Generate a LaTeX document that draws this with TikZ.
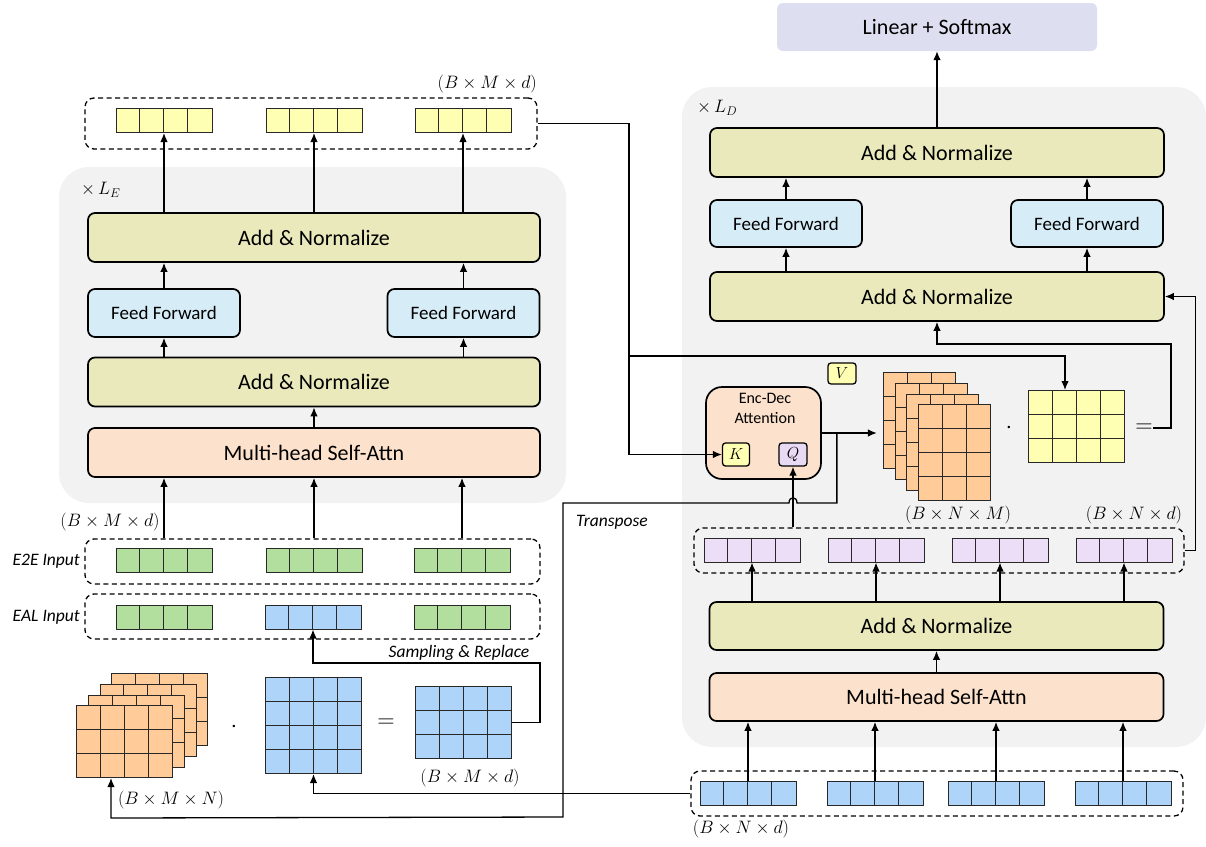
\RequirePackage{fix-cm}
\documentclass[tikz,border=0pt]{standalone}
\usepackage{fontspec}
\setmainfont{Carlito}
\usetikzlibrary{arrows.meta,calc}
\definecolor{anC}{RGB}{234,233,187}
\definecolor{ffC}{RGB}{214,236,247}
\definecolor{mhC}{RGB}{252,226,205}
\definecolor{linC}{RGB}{221,223,240}
\definecolor{bgC}{RGB}{242,242,242}
\definecolor{yC}{RGB}{255,255,179}
\definecolor{gC}{RGB}{178,222,158}
\definecolor{bC}{RGB}{174,212,250}
\definecolor{oC}{RGB}{255,204,153}
\definecolor{pC}{RGB}{236,222,246}
\definecolor{qC}{RGB}{232,218,245}
\definecolor{lnC}{RGB}{40,40,40}
\tikzset{
  blk/.style={draw, line width=1.7pt, rounded corners=7pt, inner sep=0pt},
  anbox/.style={blk, fill=anC, minimum width=452pt, minimum height=49pt, font=\fontsize{22}{26}\selectfont},
  danbox/.style={anbox, minimum width=454pt},
  mhbox/.style={blk, fill=mhC, minimum width=452pt, minimum height=49pt, font=\fontsize{22}{26}\selectfont},
  ffbox/.style={blk, fill=ffC, minimum width=152pt, minimum height=48pt, font=\fontsize{19}{22}\selectfont},
  linbox/.style={fill=linC, rounded corners=6pt, minimum width=320pt, minimum height=48pt, font=\fontsize{22}{26}\selectfont},
  attbox/.style={blk, fill=mhC, rounded corners=16pt, minimum width=115pt, minimum height=92pt},
  kq/.style={draw, line width=1.3pt, rounded corners=3pt, inner sep=0pt, minimum width=27pt, minimum height=23pt, font=\fontsize{16}{18}\selectfont},
  dbox/.style={draw, dash pattern=on 5pt off 3.5pt, line width=1.3pt, rounded corners=9pt, inner sep=0pt},
  vecn/.style={draw=lnC, line width=1pt, minimum width=96pt, minimum height=24pt, inner sep=0pt},
  gridn/.style={draw=lnC, line width=1pt, inner sep=0pt},
  cl/.style={draw=lnC, line width=1pt},
  arr/.style={-{Latex[length=9pt,width=7.5pt]}, line width=1.3pt},
  mlab/.style={inner sep=0pt, font=\fontsize{18}{20}\selectfont},
  ilab/.style={inner sep=0pt, font=\fontsize{17.5}{20}\selectfont\itshape},
  sym/.style={inner sep=0pt, font=\fontsize{24}{26}\selectfont},
}
\newcommand{\cvec}[3]{%
  \node[vecn, fill=#3] (#1) at (#2) {};
  \foreach \k in {1,2,3}{\draw[cl] ($(#1.north west)+(\k*24,0)$) -- ($(#1.south west)+(\k*24,0)$);}
}
\newcommand{\gmat}[6]{%
  \node[gridn, fill=#6, minimum width=#4*24pt, minimum height=#5*24pt, anchor=north west] (#1) at (#2,#3) {};
  \pgfmathtruncatemacro\gmc{#4-1}
  \pgfmathtruncatemacro\gmr{#5-1}
  \foreach \k in {1,...,\gmc}{\draw[cl] ($(#1.north west)+(\k*24,0)$) -- ($(#1.south west)+(\k*24,0)$);}
  \foreach \k in {1,...,\gmr}{\draw[cl] ($(#1.north west)+(0,\k*24)$) -- ($(#1.north east)+(0,\k*24)$);}
}
\begin{document}
\begin{tikzpicture}[x=1pt,y=-1pt]
\useasboundingbox (0,0) rectangle (1206,846);
% backgrounds
\fill[bgC, rounded corners=30pt] (59,167) rectangle (566,503);
\fill[bgC, rounded corners=30pt] (682,87) rectangle (1206,747);

% ================= Encoder =================
\node[dbox, minimum width=452pt, minimum height=51pt] (encY) at (311,123.5) {};
\cvec{ey1}{164,120.5}{yC}
\cvec{ey2}{314,120.5}{yC}
\cvec{ey3}{463,120.5}{yC}
\node[mlab, anchor=east] at (537,84) {$(B\times M\times d)$};
\node[mlab, anchor=west] at (81,190) {$\times\, L_E$};

\node[anbox] (eAN2) at (314,237.5) {Add \& Normalize};
\node[ffbox] (eFF1) at (164,313) {Feed Forward};
\node[ffbox] (eFF2) at (463.5,313) {Feed Forward};
\node[anbox] (eAN1) at (314,382) {Add \& Normalize};
\node[mhbox] (eMH) at (314,452.5) {Multi-head Self-Attn};

\draw[arr] (eMH.north) -- (eAN1.south);
\draw[arr] (eAN1.north -| eFF1) -- (eFF1.south);
\draw[arr] (eAN1.north -| eFF2) -- (eFF2.south);
\draw[arr] (eFF1.north) -- (eAN2.south -| eFF1);
\draw[arr] (eFF2.north) -- (eAN2.south -| eFF2);
\foreach \v in {ey1,ey2,ey3} \draw[arr] (eAN2.north -| \v) -- (\v.south);

\node[mlab] at (110,522) {$(B\times M\times d)$};
\node[dbox, minimum width=455pt, minimum height=45pt] (e2e) at (312.5,561.5) {};
\cvec{g1}{164,560}{gC}
\cvec{g2}{314,560}{gC}
\cvec{g3}{462,560}{gC}
\node[ilab, anchor=east] at (80,561) {E2E Input};
\foreach \v in {g1,g2,g3} \draw[arr] (e2e.north -| \v) -- (eMH.south -| \v);

\node[dbox, minimum width=455pt, minimum height=45pt] (eal) at (312.5,616.5) {};
\cvec{a1}{164,617}{gC}
\cvec{a2}{313,617}{bC}
\cvec{a3}{462,617}{gC}
\node[ilab, anchor=east] at (80,617) {EAL Input};
\node[ilab] at (459,653) {Sampling \& Replace};

% bottom-left matrices
\gmat{eo3}{111}{673}{4}{3}{oC}
\gmat{eo2}{99.5}{684}{4}{3}{oC}
\gmat{eo1}{88}{694.5}{4}{3}{oC}
\gmat{eo0}{76}{705}{4}{3}{oC}
\node[sym] (dotE) at (234,727) {$\cdot$};
\gmat{bM}{265}{677}{4}{4}{bC}
\node[sym] (eqE) at (386,723) {$=$};
\gmat{bR}{415}{686}{4}{3}{bC}
\node[mlab] at (171,800) {$(B\times M\times N)$};
\node[mlab] at (470,778) {$(B\times M\times d)$};

\coordinate (s1) at (540,663);
\draw[arr] (bR.east) -| (s1) -| (a2.south);

% ================= Decoder =================
\node[linbox] (lin) at (937,27) {Linear + Softmax};
\node[mlab, anchor=west] at (697,108) {$\times\, L_D$};
\node[danbox] (dAN3) at (937,152.5) {Add \& Normalize};
\node[ffbox, minimum height=47pt] (dFF1) at (786,223.5) {Feed Forward};
\node[ffbox, minimum height=47pt] (dFF2) at (1087,223.5) {Feed Forward};
\node[danbox] (dAN2) at (937,296.5) {Add \& Normalize};

\draw[arr] (dAN3.north) -- (lin.south);
\draw[arr] (dFF1.north) -- (dAN3.south -| dFF1);
\draw[arr] (dFF2.north) -- (dAN3.south -| dFF2);
\draw[arr] (dAN2.north -| dFF1) -- (dFF1.south);
\draw[arr] (dAN2.north -| dFF2) -- (dFF2.south);

\node[attbox] (att) at (763.5,433) {};
\node[inner sep=0pt, align=center, font=\fontsize{16}{20}\selectfont, anchor=north] at (765,393) {Enc-Dec\\Attention};
\node[kq, fill=yC] (K) at (736,454.5) {$K$};
\node[kq, fill=qC, minimum width=28pt] (Q) at (793,454.5) {$Q$};
\node[kq, fill=yC, minimum width=28pt, minimum height=21pt] (V) at (842,373.5) {$V$};

\gmat{do3}{883}{372}{3}{4}{oC}
\gmat{do2}{895}{383}{3}{4}{oC}
\gmat{do1}{906}{394}{3}{4}{oC}
\gmat{do0}{918}{404}{3}{4}{oC}
\node[sym] (dotD) at (1009,428) {$\cdot$};
\gmat{yM}{1028}{390}{4}{3}{yC}
\node[sym] (eqD) at (1144,428) {$=$};
\node[mlab] at (958,515) {$(B\times N\times M)$};
\node[mlab] at (1134,515) {$(B\times N\times d)$};

\node[dbox, minimum width=490pt, minimum height=45pt] (pur) at (939,550.5) {};
\cvec{p1}{752,550}{pC}
\cvec{p2}{876,550}{pC}
\cvec{p3}{1000,550}{pC}
\cvec{p4}{1124,550}{pC}

\node[danbox, minimum height=48pt] (dAN1) at (936.5,626) {Add \& Normalize};
\node[mhbox, minimum width=454pt, minimum height=48pt] (dMH) at (936.5,697) {Multi-head Self-Attn};
\draw[arr] (dMH.north) -- (dAN1.south);
\foreach \v in {p1,p2,p3,p4} \draw[arr] (dAN1.north -| \v) -- (\v.south);

\node[dbox, minimum width=492pt, minimum height=45pt] (dIn) at (937,793.5) {};
\cvec{b1}{748,793}{bC}
\cvec{b2}{875,793}{bC}
\cvec{b3}{996,793}{bC}
\cvec{b4}{1123,793}{bC}
\node[mlab] at (741,829) {$(B\times N\times d)$};
\foreach \v in {b1,b2,b3,b4} \draw[arr] (\v.north) -- (dMH.south -| \v);

% encoder output to K and to yellow matrix
\coordinate (j1) at (629,356);
\draw[arr] (encY.east) -| (j1) |- (K.west);
\draw[arr] (j1) -| ($(yM.north west)+(37,0)$);

% attention output
\coordinate (t0) at ($(att.east)+(15,0)$);
\draw[arr] (att.east) -- ($(att.east)+(55,0)$);
\draw[arr] (pur.north -| Q) -- (Q.south);
\draw[arr] (t0) -- (t0 |- 0,503) -- (797,503) .. controls (797,496) and (789,496) .. (789,503) -- (563,503) -- (563,817) -- ($(eo0.south west)+(35,40)$) -- ($(eo0.south west)+(35,0)$);
\node[ilab] at (612,522) {Transpose};

% decoder input to blue matrix
\draw[arr] (dIn.west) -| (bM.south);

% product result to Add & Normalize
\coordinate (r1) at (1171,344);
\draw[arr] (eqD.east) -| (r1) -| (dAN2.south);
\draw[arr] (pur.east) -- ++(11,0) |- (dAN2.east);
\end{tikzpicture}
\end{document}
